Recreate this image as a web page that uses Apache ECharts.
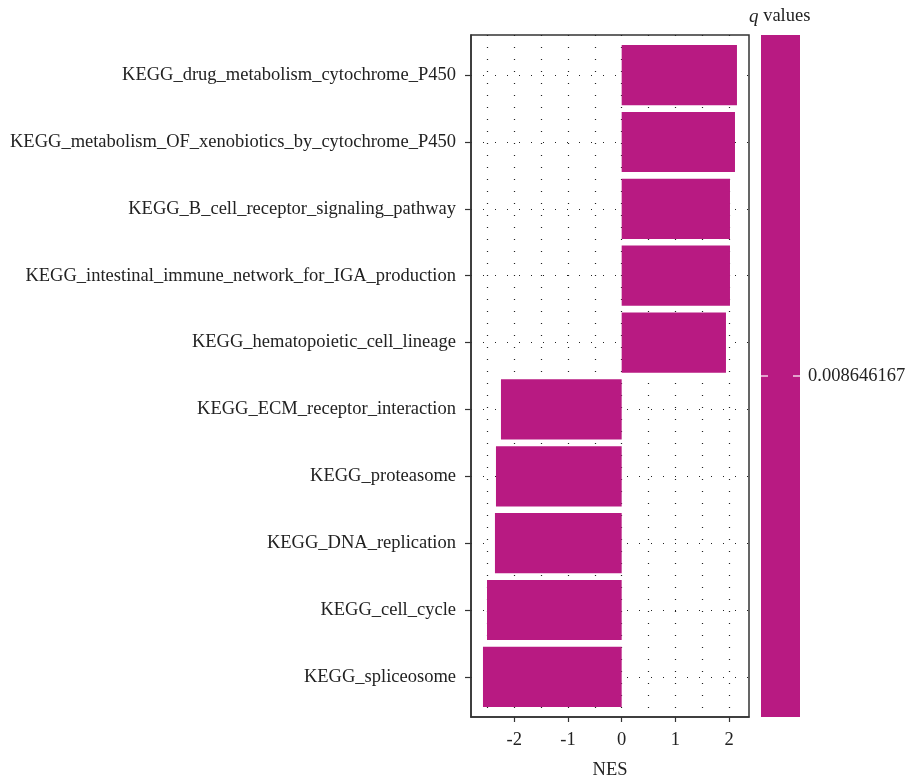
<!DOCTYPE html>
<html>
<head>
<meta charset="utf-8">
<script src="https://cdn.jsdelivr.net/npm/echarts@6/dist/echarts.min.js"></script>
<style>html,body{margin:0;padding:0;background:#fff}#c{width:905px;height:781px}</style>
</head>
<body>
<div id="c"></div>
<script>
var categories = [
  "KEGG_drug_metabolism_cytochrome_P450",
  "KEGG_metabolism_OF_xenobiotics_by_cytochrome_P450",
  "KEGG_B_cell_receptor_signaling_pathway",
  "KEGG_intestinal_immune_network_for_IGA_production",
  "KEGG_hematopoietic_cell_lineage",
  "KEGG_ECM_receptor_interaction",
  "KEGG_proteasome",
  "KEGG_DNA_replication",
  "KEGG_cell_cycle",
  "KEGG_spliceosome"
];
var nesValues = [2.147, 2.11, 2.017, 2.017, 1.942, -2.248, -2.341, -2.36, -2.508, -2.583];
var qValues = [0.008646167];
var xTickLabels = [-2, -1, 0, 1, 2];
var xGridValues = [-2.5, -2, -1.5, -1, -0.5, 0, 0.5, 1, 1.5, 2];

var FONT = "Liberation Serif";
var FS = 18.5;
var BAR = "#B81A82";
var catIdx = categories.map(function (c, i) { return i; });
var data = nesValues.map(function (v, i) { return [v, i]; });

var chart = echarts.init(document.getElementById('c'), null, {renderer: 'canvas'});
chart.setOption({
  animation: false,
  backgroundColor: '#fff',
  grid: {left: 471, right: 156, top: 35, bottom: 64, outerBoundsMode: 'none', containLabel: false,
    show: true, borderColor: '#333', borderWidth: 1.5, backgroundColor: 'transparent'},
  xAxis: [{
    type: 'value', min: -2.806, max: 2.371,
    name: 'NES', nameLocation: 'middle', nameGap: 44,
    nameTextStyle: {fontFamily: FONT, fontSize: FS, color: '#222'},
    axisLine: {show: true, onZero: false, lineStyle: {color: '#333', width: 1.5}},
    axisTick: {show: true, length: 5, customValues: xTickLabels, lineStyle: {color: '#333', width: 1.2}},
    axisLabel: {customValues: xTickLabels, fontFamily: FONT, fontSize: FS, color: '#222', margin: 14},
    splitLine: {show: false}
  }, {
    type: 'value', min: -2.806, max: 2.371, position: 'bottom',
    axisLine: {show: false}, axisLabel: {show: false},
    axisTick: {show: false, customValues: xGridValues},
    splitLine: {show: true, lineStyle: {color: '#222', width: 1.2, type: [1, 11]}}
  }],
  yAxis: [{
    type: 'value', min: -0.6, max: 9.6, inverse: true,
    axisLine: {show: true, onZero: false, lineStyle: {color: '#333', width: 1.5}},
    axisTick: {show: true, length: 6, customValues: catIdx, lineStyle: {color: '#333', width: 1.2}},
    axisLabel: {customValues: catIdx, fontFamily: FONT, fontSize: FS, color: '#222', margin: 15,
      formatter: function (v) { return categories[Math.round(v)] || ''; }},
    splitLine: {show: true, lineStyle: {color: '#222', width: 1.2, type: [1, 11]}}
  }],
  series: [{
    type: 'custom',
    xAxisIndex: 0, yAxisIndex: 0,
    data: data,
    encode: {x: 0, y: 1},
    renderItem: function (params, api) {
      var v = api.value(0), i = api.value(1);
      var p0 = api.coord([0, i]);
      var p1 = api.coord([v, i]);
      var h = Math.abs(api.size([0, 0.9])[1]);
      return {
        type: 'rect',
        shape: {x: Math.min(p0[0], p1[0]), y: p0[1] - h / 2, width: Math.abs(p1[0] - p0[0]), height: h},
        style: {fill: BAR}
      };
    },
    z: 5
  }],
  graphic: [
    {type: 'rect', left: 761, top: 35, shape: {width: 39, height: 682}, style: {fill: BAR}},
    {type: 'line', shape: {x1: 761, y1: 376, x2: 768, y2: 376}, style: {stroke: '#fff', lineWidth: 1.2}},
    {type: 'line', shape: {x1: 793, y1: 376, x2: 800, y2: 376}, style: {stroke: '#fff', lineWidth: 1.2}},
    {type: 'text', left: 808, top: 367, style: {text: String(qValues[0]), font: '18.5px "Liberation Serif"', fill: '#222'}},
    {type: 'text', left: 749, top: 7, style: {
      text: '{q|q} values', font: '18.5px "Liberation Serif"', fill: '#222',
      rich: {q: {fontStyle: 'italic', fontFamily: FONT, fontSize: 19, fill: '#222'}}
    }}
  ]
});
</script>
</body>
</html>
